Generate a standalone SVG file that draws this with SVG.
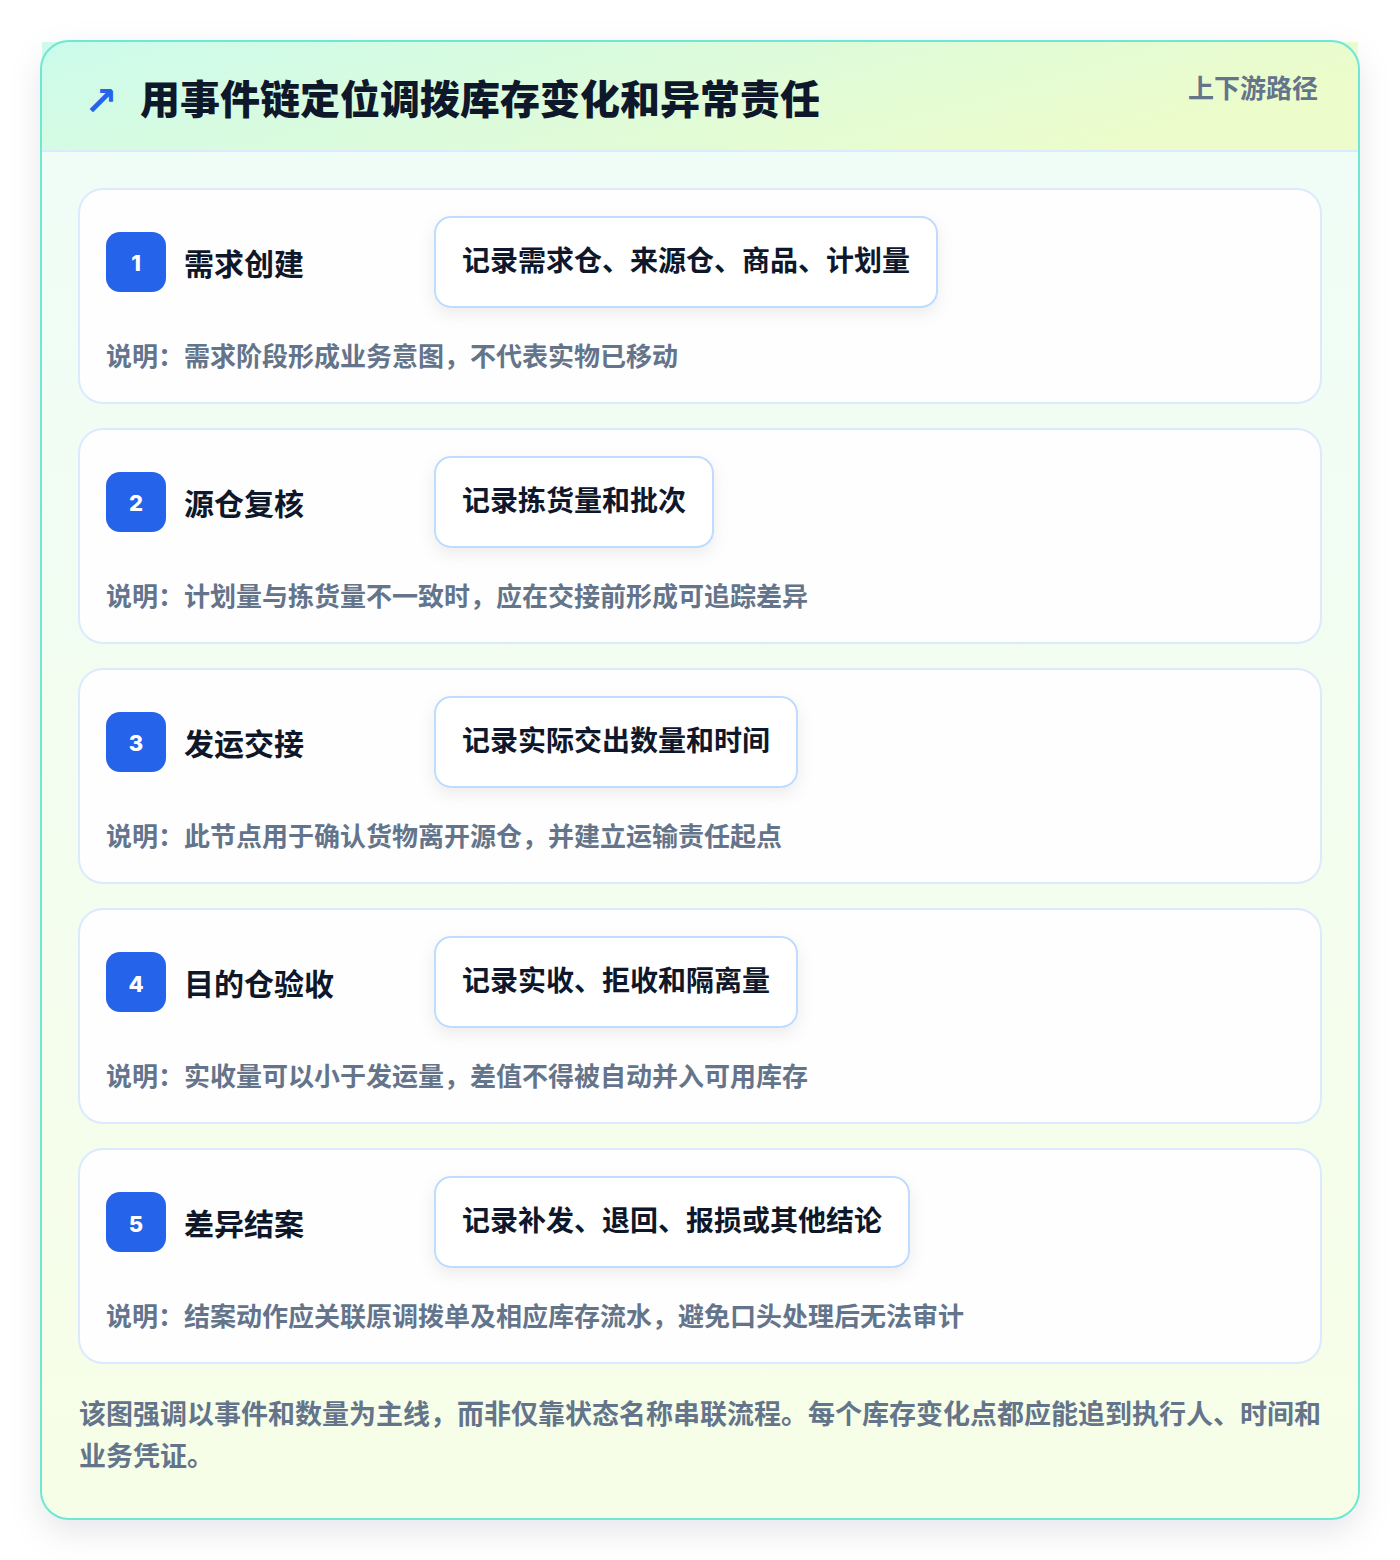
<svg xmlns="http://www.w3.org/2000/svg" width="1400" height="1560" viewBox="0 0 1400 1560">
<defs>
<linearGradient id="hdr" x1="0" y1="0" x2="1" y2="0.3">
<stop offset="0" stop-color="#ccfbec"/>
<stop offset="1" stop-color="#ecfccb"/>
</linearGradient>
<linearGradient id="body" x1="0" y1="0" x2="0" y2="1">
<stop offset="0" stop-color="#effdf8"/>
<stop offset="1" stop-color="#f7fee7"/>
</linearGradient>
<filter id="outerShadow" x="-10%" y="-10%" width="120%" height="120%">
<feDropShadow dx="0" dy="12" stdDeviation="16" flood-color="#0f172a" flood-opacity="0.10"/>
</filter>
<filter id="pillShadow" x="-10%" y="-30%" width="120%" height="160%">
<feDropShadow dx="0" dy="6" stdDeviation="8" flood-color="#0f172a" flood-opacity="0.07"/>
</filter>
</defs>
<style>
text{font-family:"Noto Sans CJK SC","Noto Sans",sans-serif;font-weight:700}
.title{font-size:40px;fill:#0f172a;font-weight:800}
.tag{font-size:26px;fill:#64748b}
.card{fill:#fdfefd;stroke:#dbeafe;stroke-width:2}
.badge{fill:#2563eb}
.num{font-size:22px;fill:#ffffff;font-family:"Inter","Noto Sans",sans-serif;font-weight:800}
.step{font-size:30px;fill:#0f172a}
.pill{fill:#ffffff;stroke:#bfdbfe;stroke-width:2}
.pilltext{font-size:28px;fill:#0f172a}
.desc{font-size:26px;fill:#64748b}
.foot{font-size:27px;fill:#64748b}
</style>
<rect x="0" y="0" width="1400" height="1560" fill="#ffffff"/>
<g id="frame">
<rect x="41" y="41" width="1318" height="1478" rx="28" fill="url(#body)" filter="url(#outerShadow)"/>
<rect x="42" y="42" width="1316" height="109" fill="url(#hdr)"/>
<line x1="42" y1="151" x2="1358" y2="151" stroke="#dbeafe" stroke-width="2"/>
<rect x="41" y="41" width="1318" height="1478" rx="28" fill="none" stroke="#6ee7d4" stroke-width="2"/>
</g>
<g id="header">
<text x="84" y="115" font-size="40" fill="#2563eb" style="font-family:'DejaVu Sans',sans-serif;font-weight:700">↗</text>
<text class="title" x="140" y="114">用事件链定位调拨库存变化和异常责任</text>
<text class="tag" x="1318" y="98" text-anchor="end">上下游路径</text>
</g>
<g id="connectors"></g>
<g id="step1">
<rect class="card" x="79" y="189" width="1242" height="214" rx="24"/>
<rect class="badge" x="106" y="232" width="60" height="60" rx="14"/>
<text class="num" x="136" y="271" text-anchor="middle">1</text>
<text class="step" x="184" y="275">需求创建</text>
<rect class="pill" x="435" y="217" width="502" height="90" rx="16" filter="url(#pillShadow)"/>
<text class="pilltext" x="462" y="271">记录需求仓、来源仓、商品、计划量</text>
<text class="desc" x="106" y="366">说明：需求阶段形成业务意图，不代表实物已移动</text>
</g>
<g id="step2">
<rect class="card" x="79" y="429" width="1242" height="214" rx="24"/>
<rect class="badge" x="106" y="472" width="60" height="60" rx="14"/>
<text class="num" x="136" y="511" text-anchor="middle">2</text>
<text class="step" x="184" y="515">源仓复核</text>
<rect class="pill" x="435" y="457" width="278" height="90" rx="16" filter="url(#pillShadow)"/>
<text class="pilltext" x="462" y="511">记录拣货量和批次</text>
<text class="desc" x="106" y="606">说明：计划量与拣货量不一致时，应在交接前形成可追踪差异</text>
</g>
<g id="step3">
<rect class="card" x="79" y="669" width="1242" height="214" rx="24"/>
<rect class="badge" x="106" y="712" width="60" height="60" rx="14"/>
<text class="num" x="136" y="751" text-anchor="middle">3</text>
<text class="step" x="184" y="755">发运交接</text>
<rect class="pill" x="435" y="697" width="362" height="90" rx="16" filter="url(#pillShadow)"/>
<text class="pilltext" x="462" y="751">记录实际交出数量和时间</text>
<text class="desc" x="106" y="846">说明：此节点用于确认货物离开源仓，并建立运输责任起点</text>
</g>
<g id="step4">
<rect class="card" x="79" y="909" width="1242" height="214" rx="24"/>
<rect class="badge" x="106" y="952" width="60" height="60" rx="14"/>
<text class="num" x="136" y="992" text-anchor="middle">4</text>
<text class="step" x="184" y="995">目的仓验收</text>
<rect class="pill" x="435" y="937" width="362" height="90" rx="16" filter="url(#pillShadow)"/>
<text class="pilltext" x="462" y="991">记录实收、拒收和隔离量</text>
<text class="desc" x="106" y="1086">说明：实收量可以小于发运量，差值不得被自动并入可用库存</text>
</g>
<g id="step5">
<rect class="card" x="79" y="1149" width="1242" height="214" rx="24"/>
<rect class="badge" x="106" y="1192" width="60" height="60" rx="14"/>
<text class="num" x="136" y="1232" text-anchor="middle">5</text>
<text class="step" x="184" y="1235">差异结案</text>
<rect class="pill" x="435" y="1177" width="474" height="90" rx="16" filter="url(#pillShadow)"/>
<text class="pilltext" x="462" y="1231">记录补发、退回、报损或其他结论</text>
<text class="desc" x="106" y="1326">说明：结案动作应关联原调拨单及相应库存流水，避免口头处理后无法审计</text>
</g>
<g id="footer">
<text class="foot" x="79" y="1424">该图强调以事件和数量为主线，而非仅靠状态名称串联流程。每个库存变化点都应能追到执行人、时间和</text>
<text class="foot" x="79" y="1466">业务凭证。</text>
</g>
</svg>
